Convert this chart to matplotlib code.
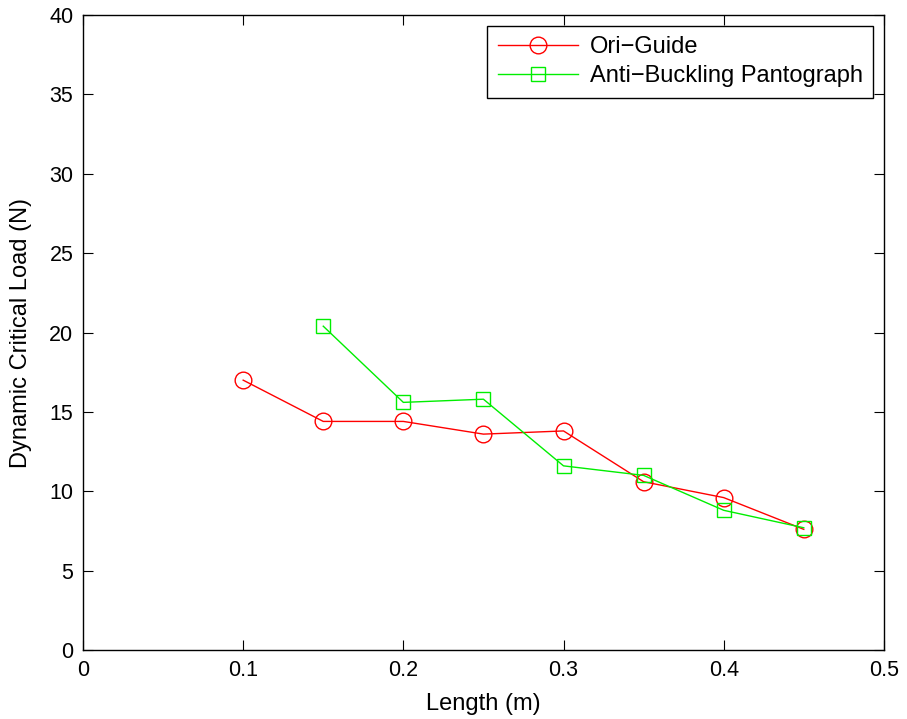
import matplotlib
matplotlib.use("Agg")
import matplotlib.pyplot as plt

# data
length_ori = [0.10, 0.15, 0.20, 0.25, 0.30, 0.35, 0.40, 0.45]
load_ori = [17.0, 14.4, 14.4, 13.6, 13.8, 10.6, 9.6, 7.6]
length_abp = [0.15, 0.20, 0.25, 0.30, 0.35, 0.40, 0.45]
load_abp = [20.4, 15.6, 15.8, 11.6, 11.0, 8.8, 7.7]

plt.rcParams['font.family'] = ['Liberation Sans', 'DejaVu Sans']
plt.rcParams['font.size'] = 15.5

fig = plt.figure(figsize=(9.07, 7.19), dpi=100)
ax = fig.add_axes([0.0915, 0.096, 0.883, 0.883])

ax.plot(length_ori, load_ori, color='#ff0000', lw=1.0, marker='o', ms=12,
        mfc='none', mec='#ff0000', mew=1.0, label='Ori\u2212Guide')
ax.plot(length_abp, load_abp, color='#00ee00', lw=1.0, marker='s', ms=9.5,
        mfc='none', mec='#00ee00', mew=1.0, label='Anti\u2212Buckling Pantograph')

ax.set_xlim(0, 0.5)
ax.set_ylim(0, 40)
ax.set_xticks([0, 0.1, 0.2, 0.3, 0.4, 0.5])
ax.set_xticklabels(['0', '0.1', '0.2', '0.3', '0.4', '0.5'])
ax.set_yticks(range(0, 41, 5))
ax.tick_params(direction='in', top=True, right=True, length=7, width=0.8, pad=7)
for s in ax.spines.values():
    s.set_linewidth(1.0)

ax.set_xlabel('Length (m)', fontsize=17, labelpad=9)
ax.set_ylabel('Dynamic Critical Load (N)', fontsize=17, labelpad=12)

leg = ax.legend(loc='upper right', fancybox=False, edgecolor='black',
                framealpha=1, borderaxespad=0.45, handlelength=3.4,
                borderpad=0.45, labelspacing=0.3, handletextpad=0.5,
                fontsize=17)
leg.get_frame().set_linewidth(1.0)

fig.savefig('out.png', dpi=100)
